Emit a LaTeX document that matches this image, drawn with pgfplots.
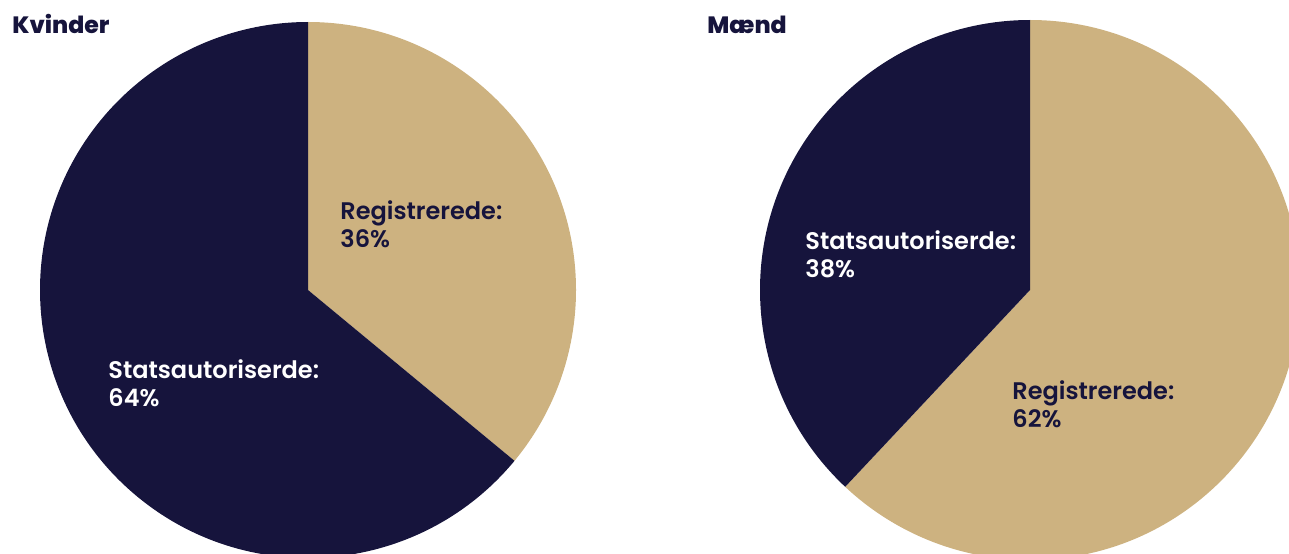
\documentclass[border=0pt]{standalone}
\usepackage{pgfplots}
\pgfplotsset{compat=1.18}
\usepackage{fontspec}
\setmainfont{Poppins}[BoldFont={Poppins SemiBold}]
\newfontfamily\heavy{Poppins ExtraBold}
\definecolor{navy}{HTML}{16143C}
\definecolor{tan}{HTML}{CDB280}
% shares in percent
\def\KReg{36}\def\KStat{64}
\def\MReg{62}\def\MStat{38}
\begin{document}
\begin{tikzpicture}
\clip (0,0) rectangle (644.5pt,276.5pt);
\begin{axis}[at={(0,0)},anchor=south west,
  x=0.5pt,y=0.5pt,xmin=0,xmax=1289,ymin=0,ymax=553,
  axis lines=none, clip=true]
% Kvinder pie, centre (308,263)
\pgfmathsetmacro{\ka}{90-3.6*\KReg}
\fill[tan] (axis cs:308,263) -- ++(90:134pt) arc[start angle=90,end angle=\ka,radius=134pt] -- cycle;
\fill[navy] (axis cs:308,263) -- ++(\ka:134pt) arc[start angle=\ka,end angle=-270,radius=134pt] -- cycle;
% Maend pie, centre (1030,263)
\pgfmathsetmacro{\ma}{90-3.6*\MReg}
\fill[tan] (axis cs:1030,263) -- ++(90:135pt) arc[start angle=90,end angle=\ma,radius=135pt] -- cycle;
\fill[navy] (axis cs:1030,263) -- ++(\ma:135pt) arc[start angle=\ma,end angle=-270,radius=135pt] -- cycle;
% titles
\node[anchor=base west,inner sep=0pt,text=navy,font=\heavy\fontsize{11.8pt}{13pt}\selectfont] at (axis cs:12,519) {Kvinder};
\node[anchor=base west,inner sep=0pt,text=navy,font=\heavy\fontsize{11.8pt}{13pt}\selectfont] at (axis cs:707,519) {Mænd};
% labels (anchor = baseline of the last line)
\tikzset{lab/.style={anchor=base west,inner sep=0pt,align=left,font=\bfseries\fontsize{12pt}{14pt}\selectfont}}
\node[lab,text=navy] at (axis cs:340,306) {Registrerede:\\\KReg\%};
\node[lab,text=white] at (axis cs:108,147) {Statsautoriserde:\\\KStat\%};
\node[lab,text=white] at (axis cs:805,276) {Statsautoriserde:\\\MStat\%};
\node[lab,text=navy] at (axis cs:1012,126) {Registrerede:\\\MReg\%};
\end{axis}
\end{tikzpicture}
\end{document}
